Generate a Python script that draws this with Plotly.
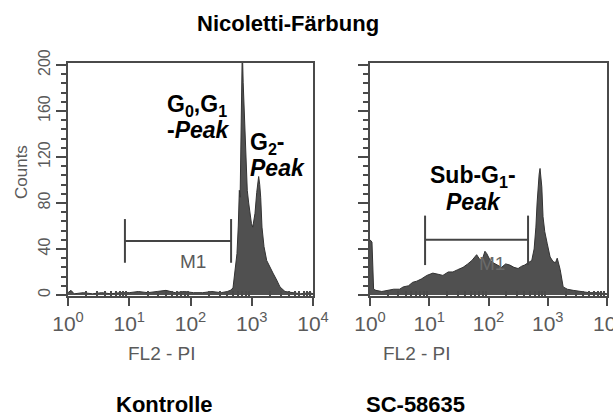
import plotly.graph_objects as go

W, H = 613, 417

# ---------------- data ----------------
# Kontrolle: FL2-PI channel intensity (linear) and counts
ctrl_fl2 = [1.0, 1.12, 1.26, 1.78, 2.51, 3.55, 5.01, 7.08, 10, 14.1, 20, 28.2, 39.8, 56.2,
            79.4, 112, 158, 224, 316, 398, 447, 494, 533, 574, 603, 627, 646, 661, 684,
            701, 724, 746, 776, 796, 822, 845, 891, 935, 989, 1038, 1084, 1130, 1205,
            1259, 1297, 1349, 1400, 1469, 1585, 1754, 1862, 1986, 2223, 2553, 2891,
            3491, 4467, 6310, 8913, 10000]
ctrl_counts = [2, 4, 1, 2, 1, 2, 1, 2, 2, 3, 2, 3, 4, 2,
               3, 2, 2, 3, 2, 3, 4, 6, 19, 36, 60, 91, 85, 135, 170,
               215, 185, 163, 150, 120, 110, 91, 80, 71, 62, 59, 64, 71, 89,
               100, 103, 96, 85, 59, 42, 30, 27, 24, 19, 13, 7,
               3, 2, 1, 2, 1]

# SC-58635
sc_fl2 = [1.0, 1.08, 1.15, 1.26, 1.58, 2.0, 2.51, 3.16, 3.63, 4.47, 5.25, 6.17, 7.41,
          9.12, 11.5, 14.1, 17.0, 20.9, 25.1, 30.2, 37.2, 44.7, 52.5, 63.1, 70.8, 77.6,
          87.1, 93.3, 107, 120, 141, 166, 195, 229, 269, 316, 363, 407, 468, 537, 589,
          631, 661, 692, 716, 741, 767, 794, 832, 891, 977, 1096, 1230, 1349, 1445,
          1622, 1820, 2138, 2692, 3548, 5012, 7079, 10000]
sc_counts = [48, 46, 5, 4, 3, 4, 5, 5, 7, 8, 11, 12, 14,
             17, 19, 18, 17, 20, 20, 22, 24, 27, 30, 35, 31, 30,
             38, 36, 30, 28, 26, 24, 27, 26, 24, 23, 25, 26, 28, 30, 40,
             59, 80, 97, 105, 110, 100, 94, 68, 55, 45, 33, 29, 28, 32,
             22, 7, 5, 4, 3, 2, 2, 1]

# M1 gate (FL2 bounds, bar bottom / mid / top counts)
ctrl_gate_x = [8.5, 460]
sc_gate_x = [8.5, 465]
ctrl_gate_y = [28, 47, 66]
sc_gate_y = [26, 48, 69]

x_tickvals = [1, 10, 100, 1000, 10000]
x_ticktext = ["10<sup>0</sup>", "10<sup>1</sup>", "10<sup>2</sup>", "10<sup>3</sup>", "10<sup>4</sup>"]
y_tickvals = [0, 40, 80, 120, 160, 200]

# ---------------- styles ----------------
AX = "#4a4a4a"
TXT = "#5a5a5a"
REG = "Liberation Sans, Arial, Helvetica"
BOLD = "Liberation Sans, Arial, Helvetica"
FILL = "#505050"

def gate_xy(gx, gy):
    x0, x1 = gx
    lo, mid, hi = gy
    xs = [x0, x0, None, x1, x1, None, x0, x1]
    ys = [lo, hi, None, lo, hi, None, mid, mid]
    return xs, ys

fig = go.Figure()
fig.add_trace(go.Scatter(x=ctrl_fl2, y=ctrl_counts, mode="lines", fill="tozeroy",
                         line=dict(color="#333333", width=1), fillcolor=FILL,
                         xaxis="x", yaxis="y", hoverinfo="skip"))
fig.add_trace(go.Scatter(x=sc_fl2, y=sc_counts, mode="lines", fill="tozeroy",
                         line=dict(color="#333333", width=1), fillcolor=FILL,
                         xaxis="x2", yaxis="y2", hoverinfo="skip"))
gx, gy = gate_xy(ctrl_gate_x, ctrl_gate_y)
fig.add_trace(go.Scatter(x=gx, y=gy, mode="lines", line=dict(color="#444", width=2),
                         xaxis="x", yaxis="y", hoverinfo="skip"))
gx, gy = gate_xy(sc_gate_x, sc_gate_y)
fig.add_trace(go.Scatter(x=gx, y=gy, mode="lines", line=dict(color="#444", width=2),
                         xaxis="x2", yaxis="y2", hoverinfo="skip"))

ydom = [1 - 296 / H, 1 - 63 / H]

def xaxis_cfg(dom, anchor):
    return dict(type="log", range=[0, 4], domain=dom, anchor=anchor, automargin=False,
                tickmode="array", tickvals=x_tickvals, ticktext=x_ticktext,
                ticks="outside", ticklen=8, tickwidth=2, tickcolor=AX,
                showline=True, linecolor=AX, linewidth=2, mirror=True,
                showgrid=False, zeroline=False,
                tickfont=dict(family=REG, size=21, color=TXT),
                minor=dict(tickmode="array",
                           tickvals=[m * 10 ** d for d in range(4) for m in range(2, 10)],
                           ticks="inside", ticklen=5, tickwidth=1.5, tickcolor=AX,
                           showgrid=False))

def yaxis_cfg(anchor, labels):
    return dict(range=[-0.9, 201.7], domain=ydom, anchor=anchor, automargin=False,
                tickmode="array", tickvals=y_tickvals, showticklabels=labels,
                ticks="outside", ticklen=10, tickwidth=2, tickcolor=AX, tickangle=-90,
                showline=True, linecolor=AX, linewidth=2, mirror=True,
                showgrid=False, zeroline=False,
                tickfont=dict(family=REG, size=16, color=TXT),
                minor=dict(dtick=8, tick0=0, ticks="outside", ticklen=5, tickwidth=1.5,
                           tickcolor=AX, showgrid=False))

fig.update_layout(
    width=W, height=H, margin=dict(l=0, r=0, t=0, b=0, autoexpand=False),
    paper_bgcolor="white", plot_bgcolor="white", showlegend=False,
    xaxis=xaxis_cfg([68 / W, 313 / W], "y"),
    yaxis=yaxis_cfg("x", True),
    xaxis2=xaxis_cfg([370 / W, 607 / W], "y2"),
    yaxis2=yaxis_cfg("x2", False),
)

def ann(text, px, py, size, color="black", family=BOLD, xanchor="center", angle=0):
    fig.add_annotation(text=text, x=px / W, y=1 - py / H, xref="paper", yref="paper",
                       showarrow=False, xanchor=xanchor, yanchor="middle", textangle=angle,
                       font=dict(family=family, size=size, color=color))

ann("<b>Nicoletti-Färbung</b>", 288, 24, 22)
ann("<b>Kontrolle</b>", 164, 404, 22)
ann("<b>SC-58635</b>", 415, 404, 22)
ann("FL2 - PI", 162, 353, 19, TXT, REG)
ann("FL2 - PI", 417, 353, 19, TXT, REG)
ann("Counts", 21, 172, 17, TXT, REG, angle=-90)
ann("M1", 193, 261, 19, TXT, REG)
ann("M1", 492, 263, 19, "#6a6a6a", REG)
ann("<b>G<sub>0</sub>,G<sub>1</sub></b>", 165, 105, 23, xanchor="left")
ann("<b>-<i>Peak</i></b>", 165, 130, 23, xanchor="left")
ann("<b>G<sub>2</sub>-</b>", 248, 143, 23, xanchor="left")
ann("<b><i>Peak</i></b>", 248, 168, 23, xanchor="left")
ann("<b>Sub-G<sub>1</sub>-</b>", 473, 176, 23)
ann("<b><i>Peak</i></b>", 473, 202, 23)
# right-edge tick label of the second panel (cut by the picture edge, as in the original)
ann(x_ticktext[-1], 609, 322, 21, TXT, REG)

fig.write_html("out.html")
